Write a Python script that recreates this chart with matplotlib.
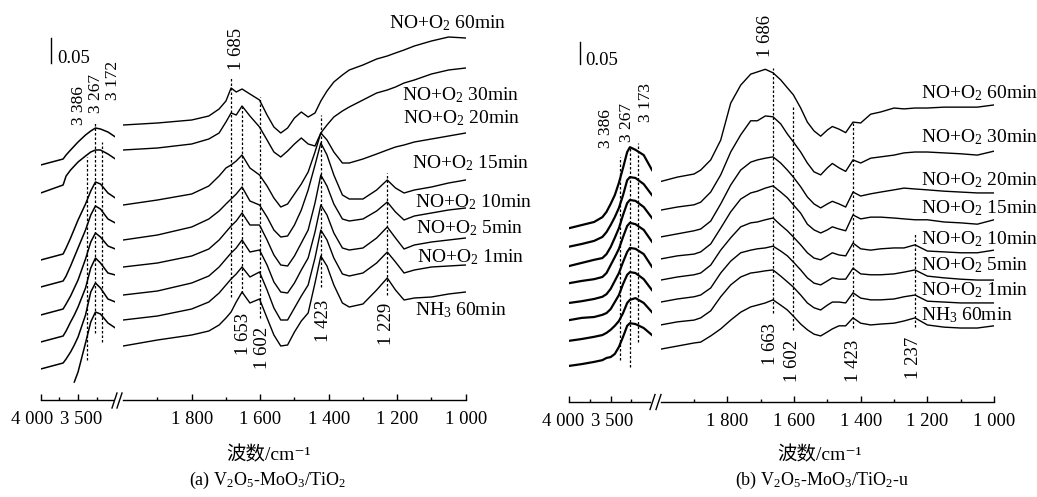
import numpy as np
import matplotlib.pyplot as plt
from matplotlib.lines import Line2D
from matplotlib.transforms import ScaledTranslation

W, H = 1037, 497

plt.rcParams['font.family'] = ['Liberation Serif', 'Noto Sans CJK SC', 'DejaVu Sans']
plt.rcParams['mathtext.fontset'] = 'custom'
plt.rcParams['mathtext.rm'] = 'Liberation Serif'
plt.rcParams['mathtext.it'] = 'Liberation Serif:italic'
plt.rcParams['mathtext.default'] = 'regular'
plt.rcParams['font.size'] = 14

SERIES = ['NH$_3$ 60min', 'NO+O$_2$ 1min', 'NO+O$_2$ 5min', 'NO+O$_2$ 10min',
          'NO+O$_2$ 15min', 'NO+O$_2$ 20min', 'NO+O$_2$ 30min', 'NO+O$_2$ 60min']
nan = np.nan

# ---------------- panel (a): V2O5-MoO3/TiO2 ----------------
WN_A_HI = [4000, 3850, 3700, 3660, 3600, 3550, 3500, 3400, 3330, 3267, 3200, 3100, 3000]
a_nh3_hi = [nan, nan, nan, nan, nan, 0.036, 0.056, 0.114, 0.156, 0.176, 0.172, 0.154, 0.144]
a_1min_hi = [0.062, 0.068, 0.074, 0.082, 0.096, 0.110, 0.126, 0.170, 0.216, 0.234, 0.224, 0.202, 0.196]
a_5min_hi = [0.116, 0.122, 0.128, 0.138, 0.156, 0.170, 0.186, 0.224, 0.264, 0.284, 0.274, 0.254, 0.250]
a_10min_hi = [0.170, 0.176, 0.182, 0.192, 0.208, 0.224, 0.240, 0.282, 0.316, 0.334, 0.326, 0.308, 0.302]
a_15min_hi = [0.226, 0.232, 0.238, 0.248, 0.268, 0.286, 0.304, 0.340, 0.370, 0.388, 0.382, 0.362, 0.354]
a_20min_hi = [0.280, 0.286, 0.292, 0.304, 0.324, 0.342, 0.360, 0.392, 0.418, 0.436, 0.432, 0.414, 0.404]
a_30min_hi = [0.414, 0.422, 0.430, 0.448, 0.460, 0.468, 0.476, 0.488, 0.496, 0.500, 0.500, 0.492, 0.482]
a_60min_hi = [0.470, 0.476, 0.482, 0.490, 0.500, 0.508, 0.516, 0.530, 0.538, 0.544, 0.542, 0.536, 0.526]

WN_A_LO = [2000, 1900, 1800, 1750, 1720, 1700, 1685, 1670, 1653, 1630, 1602, 1580, 1560,
           1540, 1520, 1500, 1480, 1460, 1440, 1423, 1405, 1385, 1360, 1340, 1300, 1260,
           1229, 1205, 1180, 1150, 1100, 1050, 1000]
a_nh3_lo = [0.108, 0.120, 0.130, 0.138, 0.150, 0.164, 0.176, 0.196, 0.216, 0.194, 0.202,
            0.164, 0.130, 0.108, 0.110, 0.136, 0.158, 0.174, 0.234, 0.288, 0.268, 0.230,
            0.194, 0.186, 0.192, 0.220, 0.244, 0.220, 0.200, 0.204, 0.206, 0.212, 0.216]
a_1min_lo = [0.160, 0.168, 0.182, 0.196, 0.214, 0.230, 0.242, 0.252, 0.266, 0.246, 0.256,
             0.220, 0.184, 0.160, 0.160, 0.184, 0.208, 0.230, 0.284, 0.340, 0.320, 0.284,
             0.252, 0.248, 0.254, 0.274, 0.296, 0.276, 0.254, 0.260, 0.266, 0.268, 0.270]
a_5min_lo = [0.210, 0.218, 0.234, 0.248, 0.266, 0.282, 0.294, 0.304, 0.320, 0.296, 0.300,
             0.270, 0.236, 0.216, 0.214, 0.234, 0.260, 0.284, 0.336, 0.390, 0.370, 0.334,
             0.304, 0.300, 0.304, 0.324, 0.346, 0.324, 0.302, 0.310, 0.316, 0.320, 0.324]
a_10min_lo = [0.266, 0.274, 0.288, 0.302, 0.320, 0.336, 0.348, 0.358, 0.374, 0.350, 0.350,
              0.320, 0.290, 0.270, 0.268, 0.288, 0.314, 0.340, 0.394, 0.450, 0.428, 0.392,
              0.362, 0.358, 0.362, 0.378, 0.396, 0.376, 0.360, 0.368, 0.374, 0.380, 0.384]
a_15min_lo = [0.320, 0.330, 0.346, 0.362, 0.378, 0.392, 0.402, 0.412, 0.426, 0.398, 0.390,
              0.366, 0.340, 0.326, 0.328, 0.350, 0.380, 0.420, 0.470, 0.514, 0.490, 0.450,
              0.410, 0.402, 0.402, 0.420, 0.440, 0.424, 0.414, 0.420, 0.426, 0.434, 0.440]
a_20min_lo = [0.390, 0.400, 0.412, 0.428, 0.448, 0.464, 0.470, 0.478, 0.490, 0.464, 0.450,
              0.428, 0.404, 0.386, 0.392, 0.412, 0.432, 0.456, 0.496, 0.534, 0.520, 0.496,
              0.474, 0.474, 0.482, 0.492, 0.500, 0.506, 0.510, 0.516, 0.522, 0.528, 0.534]
a_30min_lo = [0.500, 0.504, 0.512, 0.522, 0.534, 0.556, 0.574, 0.570, 0.588, 0.568, 0.546,
              0.520, 0.496, 0.486, 0.498, 0.512, 0.524, 0.512, 0.508, 0.534, 0.550, 0.566,
              0.578, 0.586, 0.600, 0.614, 0.620, 0.626, 0.634, 0.640, 0.652, 0.660, 0.664]
a_60min_lo = [0.550, 0.554, 0.560, 0.568, 0.582, 0.598, 0.624, 0.616, 0.622, 0.612, 0.600,
              0.570, 0.546, 0.534, 0.544, 0.564, 0.576, 0.566, 0.574, 0.598, 0.618, 0.636,
              0.650, 0.660, 0.670, 0.682, 0.688, 0.694, 0.700, 0.708, 0.718, 0.726, 0.724]

# ---------------- panel (b): V2O5-MoO3/TiO2-u ----------------
WN_B_HI = [4000, 3850, 3700, 3600, 3550, 3500, 3450, 3400, 3350, 3300, 3267, 3200, 3100, 3000]
b_nh3_hi = [0.081, 0.085, 0.090, 0.094, 0.099, 0.101, 0.108, 0.124, 0.147, 0.172, 0.178, 0.176, 0.167, 0.151]
b_1min_hi = [0.138, 0.142, 0.147, 0.151, 0.156, 0.163, 0.172, 0.183, 0.201, 0.224, 0.231, 0.235, 0.224, 0.203]
b_5min_hi = [0.185, 0.190, 0.192, 0.197, 0.201, 0.210, 0.226, 0.242, 0.267, 0.288, 0.294, 0.292, 0.278, 0.253]
b_10min_hi = [0.224, 0.228, 0.233, 0.238, 0.244, 0.256, 0.274, 0.292, 0.317, 0.340, 0.349, 0.347, 0.335, 0.306]
b_15min_hi = [0.269, 0.274, 0.278, 0.283, 0.292, 0.310, 0.328, 0.347, 0.374, 0.399, 0.406, 0.403, 0.390, 0.363]
b_20min_hi = [0.308, 0.315, 0.322, 0.326, 0.335, 0.351, 0.372, 0.394, 0.424, 0.451, 0.458, 0.456, 0.442, 0.417]
b_30min_hi = [0.352, 0.358, 0.365, 0.374, 0.385, 0.401, 0.419, 0.440, 0.469, 0.503, 0.510, 0.508, 0.494, 0.469]
b_60min_hi = [0.394, 0.401, 0.408, 0.419, 0.431, 0.449, 0.469, 0.497, 0.531, 0.567, 0.578, 0.572, 0.560, 0.526]

WN_B_LO = [2000, 1950, 1900, 1880, 1850, 1820, 1790, 1760, 1730, 1710, 1686, 1663, 1640,
           1620, 1602, 1580, 1560, 1540, 1520, 1500, 1485, 1465, 1445, 1423, 1400, 1370,
           1340, 1300, 1270, 1237, 1200, 1150, 1100, 1050, 1000]
b_nh3_lo = [0.119, 0.126, 0.133, 0.135, 0.149, 0.165, 0.185, 0.203, 0.215, 0.219, 0.224, 0.231,
            0.219, 0.208, 0.194, 0.176, 0.163, 0.153, 0.149, 0.158, 0.165, 0.172, 0.172, 0.190,
            0.178, 0.174, 0.176, 0.178, 0.183, 0.190, 0.174, 0.169, 0.167, 0.167, 0.172]
b_1min_lo = [0.174, 0.181, 0.185, 0.190, 0.206, 0.238, 0.265, 0.283, 0.292, 0.294, 0.297, 0.299,
             0.285, 0.272, 0.260, 0.242, 0.224, 0.213, 0.208, 0.219, 0.226, 0.226, 0.224, 0.247,
             0.235, 0.231, 0.231, 0.233, 0.238, 0.242, 0.228, 0.226, 0.224, 0.224, 0.224]
b_5min_lo = [0.226, 0.233, 0.238, 0.242, 0.258, 0.292, 0.319, 0.338, 0.344, 0.347, 0.349, 0.353,
             0.342, 0.331, 0.317, 0.299, 0.281, 0.269, 0.265, 0.274, 0.281, 0.278, 0.278, 0.303,
             0.290, 0.288, 0.288, 0.290, 0.294, 0.299, 0.285, 0.281, 0.278, 0.276, 0.276]
b_10min_lo = [0.276, 0.283, 0.288, 0.292, 0.310, 0.344, 0.372, 0.397, 0.406, 0.408, 0.413, 0.417,
              0.401, 0.388, 0.374, 0.356, 0.338, 0.326, 0.322, 0.331, 0.338, 0.333, 0.331, 0.360,
              0.347, 0.344, 0.347, 0.349, 0.349, 0.356, 0.342, 0.340, 0.338, 0.338, 0.344]
b_15min_lo = [0.324, 0.331, 0.335, 0.340, 0.358, 0.394, 0.431, 0.460, 0.474, 0.478, 0.485, 0.490,
              0.476, 0.463, 0.447, 0.428, 0.403, 0.390, 0.383, 0.390, 0.397, 0.392, 0.388, 0.424,
              0.415, 0.419, 0.419, 0.417, 0.415, 0.413, 0.413, 0.408, 0.406, 0.403, 0.413]
b_20min_lo = [0.374, 0.381, 0.388, 0.392, 0.410, 0.449, 0.492, 0.526, 0.544, 0.549, 0.553, 0.556,
              0.542, 0.526, 0.510, 0.488, 0.465, 0.449, 0.440, 0.449, 0.455, 0.449, 0.442, 0.476,
              0.467, 0.472, 0.476, 0.481, 0.485, 0.483, 0.481, 0.478, 0.476, 0.474, 0.474]
b_30min_lo = [0.435, 0.442, 0.447, 0.453, 0.476, 0.515, 0.567, 0.606, 0.638, 0.638, 0.649, 0.647,
              0.631, 0.608, 0.590, 0.567, 0.542, 0.522, 0.515, 0.531, 0.541, 0.531, 0.523, 0.549,
              0.542, 0.553, 0.556, 0.560, 0.565, 0.567, 0.567, 0.565, 0.563, 0.560, 0.569]
b_60min_lo = [0.500, 0.510, 0.517, 0.526, 0.549, 0.594, 0.678, 0.719, 0.744, 0.749, 0.755, 0.747,
              0.731, 0.713, 0.697, 0.667, 0.635, 0.615, 0.603, 0.617, 0.625, 0.619, 0.611, 0.635,
              0.633, 0.653, 0.658, 0.667, 0.665, 0.667, 0.667, 0.669, 0.669, 0.669, 0.674]

# band assignments: (wavenumber, lower, upper) of dotted guides
GUIDES_A_HI = [(3386, 0.080, 0.486), (3267, 0.134, 0.556), (3173, 0.116, 0.516)]
GUIDES_A_LO = [(1685, 0.206, 0.646), (1653, 0.214, 0.586), (1602, 0.164, 0.606),
               (1423, 0.226, 0.570), (1229, 0.210, 0.454)]
GUIDES_B_HI = [(3386, 0.094, 0.556), (3267, 0.078, 0.576), (3173, 0.135, 0.588)]
GUIDES_B_LO = [(1663, 0.201, 0.758), (1602, 0.163, 0.669), (1423, 0.167, 0.635),
               (1237, 0.169, 0.383)]

# band labels: text, x (cm-1), y, above/below
BANDS_A_HI = [('3 386', 3485, 0.550, 'up'), ('3 267', 3262, 0.574, 'up'), ('3 172', 3035, 0.600, 'up')]
BANDS_A_LO = [('1 685', 1668, 0.660, 'up'), ('1 653', 1650, 0.174, 'down'),
              ('1 602', 1594, 0.146, 'down'), ('1 423', 1416, 0.200, 'down'),
              ('1 229', 1230, 0.194, 'down')]
BANDS_B_HI = [('3 386', 3556, 0.576, 'up'), ('3 267', 3302, 0.590, 'up'), ('3 173', 3073, 0.635, 'up')]
BANDS_B_LO = [('1 686', 1687, 0.783, 'up'), ('1 663', 1672, 0.178, 'down'),
              ('1 602', 1604, 0.140, 'down'), ('1 423', 1423, 0.140, 'down'),
              ('1 237', 1242, 0.147, 'down')]

LABEL_X_A = [1148, 1142, 1145, 1148, 1157, 1183, 1186, 1224]
LABEL_Y_A = [0.170, 0.276, 0.334, 0.386, 0.464, 0.554, 0.600, 0.744]
LABEL_X_B = [1220] * 8
LABEL_Y_B = [0.185, 0.242, 0.299, 0.358, 0.428, 0.492, 0.588, 0.688]


def fmt(v):
    return f'{v // 1000} {v % 1000:03d}'


def px_axes(fig, x0, x1, y_axis):
    return fig.add_axes([x0 / W, 1 - y_axis / H, (x1 - x0) / W, y_axis / H])


def style(ax, xlim, ylim, major, minor, bounds, shifts=None):
    ax.set_xlim(*xlim)
    ax.set_ylim(*ylim)
    ax.patch.set_alpha(0)
    for s in ['left', 'right', 'top']:
        ax.spines[s].set_visible(False)
    ax.spines['bottom'].set_linewidth(1.0)
    ax.spines['bottom'].set_bounds(*bounds)
    ax.set_yticks([])
    ax.set_xticks(major)
    ax.set_xticklabels([fmt(v) for v in major])
    ax.set_xticks(minor, minor=True)
    ax.tick_params(axis='x', which='major', direction='in', length=4, width=1,
                   pad=8, labelsize=13.5)
    ax.tick_params(axis='x', which='minor', direction='in', length=2.5, width=1)
    if shifts:
        for lab, dx in zip(ax.get_xticklabels(), shifts):
            lab.set_transform(lab.get_transform() + ScaledTranslation(dx / 100, 0, ax.figure.dpi_scale_trans))


def draw_panel(ax_hi, ax_lo, wn_hi, hi, wn_lo, lo, g_hi, g_lo, b_hi, b_lo, lx, ly, lw_hi):
    for y in hi:
        ax_hi.plot(wn_hi, y, color='black', lw=lw_hi)
    for y in lo:
        ax_lo.plot(wn_lo, y, color='black', lw=1.0)
    for ax, guides in ((ax_hi, g_hi), (ax_lo, g_lo)):
        for wn, y0, y1 in guides:
            ax.vlines(wn, y0, y1, colors='black', lw=0.9, linestyles=(0, (2, 1.6)))
    for ax, bands, fs in ((ax_hi, b_hi, 12.5), (ax_lo, b_lo, 13.5)):
        for txt, x, y, where in bands:
            ax.text(x, y, txt, rotation=90, ha='center',
                    va='bottom' if where == 'up' else 'top', fontsize=fs)
    for name, x, y in zip(SERIES, lx, ly):
        ax_lo.text(x, y, name, ha='left', va='baseline', fontsize=14, clip_on=False)


def break_marks(fig, xs, y_axis):
    for x in xs:
        fig.add_artist(Line2D([x / W, (x + 5) / W], [1 - (y_axis + 8) / H, 1 - (y_axis - 7) / H],
                              color='black', lw=1.0))


fig = plt.figure(figsize=(W / 100, H / 100), dpi=100)

# panel (a)
ya = 400
ax_a_hi = px_axes(fig, 40.7, 115.4, ya)
ax_a_lo = px_axes(fig, 123.2, 465.7, ya)
ylim_a = (0, ya / 500)
style(ax_a_hi, (4000, 3000), ylim_a, [4000, 3500], [3750, 3250], (4000, 3030), shifts=[-9, 3])
style(ax_a_lo, (2000, 1000), ylim_a, [1800, 1600, 1400, 1200, 1000],
      [1900, 1700, 1500, 1300, 1100], (2000, 1000))
draw_panel(ax_a_hi, ax_a_lo, WN_A_HI,
           [a_nh3_hi, a_1min_hi, a_5min_hi, a_10min_hi, a_15min_hi, a_20min_hi, a_30min_hi, a_60min_hi],
           WN_A_LO,
           [a_nh3_lo, a_1min_lo, a_5min_lo, a_10min_lo, a_15min_lo, a_20min_lo, a_30min_lo, a_60min_lo],
           GUIDES_A_HI, GUIDES_A_LO, BANDS_A_HI, BANDS_A_LO, LABEL_X_A, LABEL_Y_A, 1.1)
ax_a_hi.plot([3866, 3866], [0.674, 0.724], color='black', lw=1.0)
ax_a_hi.text(3782, 0.674, '0.05', ha='left', va='baseline', fontsize=13.5)
break_marks(fig, [112, 117], ya)

# panel (b)
yb = 401.5
ax_b_hi = px_axes(fig, 569.3, 652.0, yb)
ax_b_lo = px_axes(fig, 660.7, 994.0, yb)
ylim_b = (0, yb / 440)
style(ax_b_hi, (4000, 3000), ylim_b, [4000, 3500], [3750, 3250], (4000, 3020), shifts=[-6, 1])
style(ax_b_lo, (2000, 1000), ylim_b, [1800, 1600, 1400, 1200, 1000],
      [1900, 1700, 1500, 1300, 1100], (2000, 1000))
draw_panel(ax_b_hi, ax_b_lo, WN_B_HI,
           [b_nh3_hi, b_1min_hi, b_5min_hi, b_10min_hi, b_15min_hi, b_20min_hi, b_30min_hi, b_60min_hi],
           WN_B_LO,
           [b_nh3_lo, b_1min_lo, b_5min_lo, b_10min_lo, b_15min_lo, b_20min_lo, b_30min_lo, b_60min_lo],
           GUIDES_B_HI, GUIDES_B_LO, BANDS_B_HI, BANDS_B_LO, LABEL_X_B, LABEL_Y_B, 1.6)
ax_b_hi.plot([3871, 3871], [0.767, 0.817], color='black', lw=1.0)
ax_b_hi.text(3810, 0.765, '0.05', ha='left', va='baseline', fontsize=13.5)
break_marks(fig, [650, 656], yb)

# axis titles and captions
fig.text(269 / W, 1 - 455 / H, '波数/cm⁻¹', ha='center', va='center', fontsize=14)
fig.text(820 / W, 1 - 455 / H, '波数/cm⁻¹', ha='center', va='center', fontsize=14)
fig.text(267 / W, 1 - 480 / H, '(a) V$_2$O$_5$-MoO$_3$/TiO$_2$', ha='center', va='center', fontsize=13)
fig.text(822 / W, 1 - 480 / H, '(b) V$_2$O$_5$-MoO$_3$/TiO$_2$-u', ha='center', va='center', fontsize=13)

fig.savefig('out.png', dpi=100)
